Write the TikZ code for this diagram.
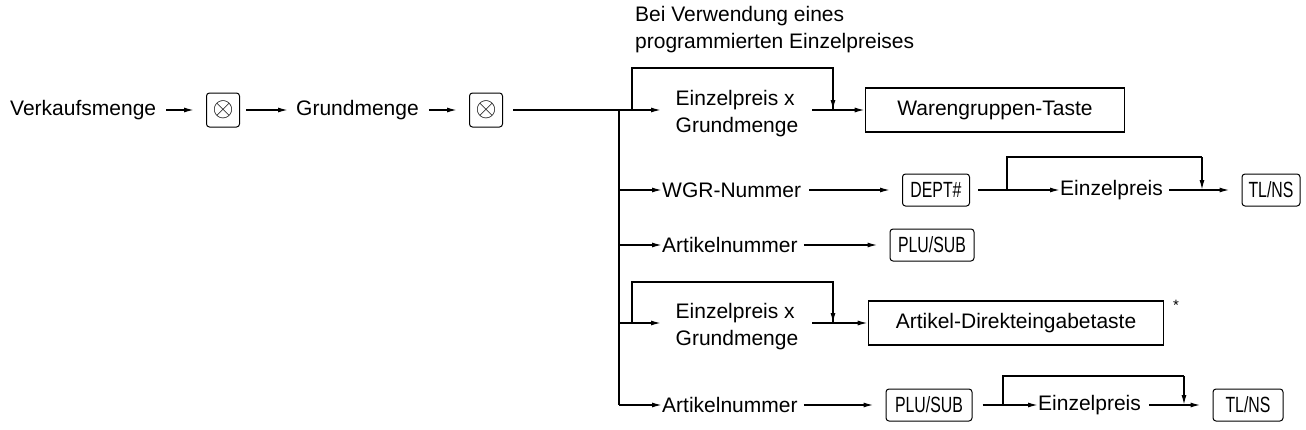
\documentclass[tikz,border=0pt]{standalone}
\usepackage{fontspec}
\setmainfont{Liberation Sans}
\usetikzlibrary{arrows.meta}
\newcommand{\keytxt}[1]{\scalebox{0.72}[1]{#1}}
\tikzset{
  lbl/.style={font=\fontsize{21}{27}\selectfont, inner sep=0pt},
  key/.style={draw, rounded corners=3pt, line width=1pt, font=\fontsize{22}{22}\selectfont,
    minimum height=32pt, inner sep=0pt},
  bigkey/.style={draw, line width=1.6pt, font=\fontsize{21}{24}\selectfont, minimum height=44pt, inner sep=0pt},
  arr/.style={line width=1.4pt, -{Latex[length=10pt,width=5pt]}},
  tokey/.style={arr, shorten >=12pt},
  ln/.style={line width=1.4pt}
}
\begin{document}
\begin{tikzpicture}[x=1pt,y=-1pt]
\useasboundingbox (0,0) rectangle (1306,429);

% main row
\node[lbl, anchor=west] (vm) at (10,110) {Verkaufsmenge};
\node[key, minimum width=33pt, minimum height=34pt] (x1) at (223,110) {\scalebox{1.3}{$\otimes$}};
\node[lbl, anchor=west] (gm) at (296,110) {Grundmenge};
\node[key, minimum width=33pt, minimum height=34pt] (x2) at (486,110) {\scalebox{1.3}{$\otimes$}};
\draw[tokey] (vm.east)++(10,0) -- (x1.west);
\draw[arr] (x1.east)++(6,0) -- ++(42,0);
\draw[tokey] (gm.east)++(10,0) -- (x2.west);
\coordinate (t1) at (619,110);
\coordinate (t5) at (619,405);
\draw[ln] (x2.east)++(10,0) -- (t1) -- (t5);

% row 1
\node[lbl, anchor=north west, align=left] at (635,6) {Bei Verwendung eines\\programmierten Einzelpreises};
\node[lbl, align=left] (ep1) at (737,114) {Einzelpreis x\\Grundmenge};
\node[bigkey, minimum width=259pt] (wg) at (995,110) {Warengruppen-Taste};
\coordinate (e1) at (833,110);
\draw[arr] (t1) -- ++(42,0);
\draw[ln] (632,110) |- (632,68) -| (e1);
\draw[arr] (833,68) -- (e1);
\draw[arr] (812,110) -- (wg.west);

% row 2
\coordinate (t2) at (619,190);
\node[lbl, anchor=west] (wgr) at (662,190) {WGR-Nummer};
\node[key, minimum width=67pt] (dept) at (936,190) {\keytxt{DEPT\#}};
\node[lbl, anchor=west] (ep2) at (1060,190) {Einzelpreis};
\node[key, minimum width=58pt] (tl1) at (1271,190) {\keytxt{TL/NS}};
\draw[arr] (t2) -- (wgr.west);
\draw[tokey] (wgr.east)++(8,0) -- (dept.west);
\draw[arr] (dept.east)++(8,0) -- (ep2.west);
\draw[ln] (1007,190) |- (1202,157);
\draw[arr] (1202,157) -- (1202,190);
\draw[tokey] (ep2.east)++(6,0) -- (tl1.west);

% row 3
\coordinate (t3) at (619,245);
\node[lbl, anchor=west] (an1) at (662,245) {Artikelnummer};
\node[key, minimum width=84pt] (plu1) at (932,245) {\keytxt{PLU/SUB}};
\draw[arr] (t3) -- (an1.west);
\draw[tokey] (an1.east)++(6,0) -- (plu1.west);

% row 4
\coordinate (t4) at (619,323);
\node[lbl, align=left] (ep4) at (737,327) {Einzelpreis x\\Grundmenge};
\node[bigkey, minimum width=295pt] (ad) at (1016,323) {Artikel-Direkteingabetaste};
\node[font=\fontsize{15}{15}\selectfont, inner sep=0pt] (ast) at (1176,305) {*};
\coordinate (e4) at (833,323);
\draw[arr] (t4) -- ++(42,0);
\draw[ln] (632,323) |- (632,282) -| (e4);
\draw[arr] (833,282) -- (e4);
\draw[arr] (812,323) -- (ad.west);

% row 5
\node[lbl, anchor=west] (an2) at (662,405) {Artikelnummer};
\node[key, minimum width=86pt] (plu2) at (929,405) {\keytxt{PLU/SUB}};
\node[lbl, anchor=west] (ep5) at (1038,405) {Einzelpreis};
\node[key, minimum width=70pt] (tl2) at (1248,405) {\keytxt{TL/NS}};
\draw[arr] (t5) -- (an2.west);
\draw[tokey] (an2.east)++(6,0) -- (plu2.west);
\draw[arr] (plu2.east)++(10,0) -- (ep5.west);
\draw[ln] (1003,405) |- (1184,376);
\draw[arr] (1184,376) -- (1184,405);
\draw[tokey] (ep5.east)++(8,0) -- (tl2.west);
\end{tikzpicture}
\end{document}
